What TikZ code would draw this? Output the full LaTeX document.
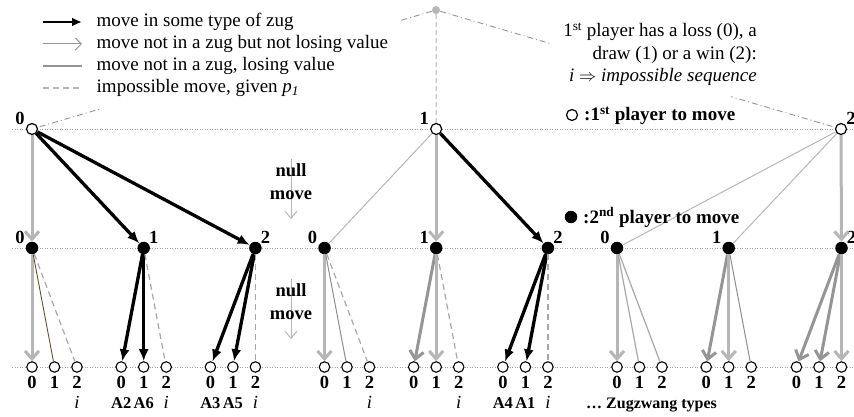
\documentclass[tikz,border=0pt]{standalone}
\usepackage{fontspec}
\setmainfont{Liberation Serif}
\usetikzlibrary{arrows.meta}
\definecolor{lg}{HTML}{B6B6B6}
\definecolor{dg}{HTML}{959595}
\definecolor{tg}{HTML}{A8A8A8}
\definecolor{tgd}{HTML}{8E8E8E}
\definecolor{dashg}{HTML}{A8A8A8}
\definecolor{dotg}{HTML}{A0A0A0}
\definecolor{brn}{RGB}{95,85,45}
\begin{document}
\begin{tikzpicture}[x=1pt,y=-1pt,
  every node/.style={font=\fontsize{19}{22.5}\selectfont},
  nlab/.style={font=\fontsize{18.5}{20}\selectfont\bfseries,inner sep=0pt},
  dig/.style={font=\fontsize{18.5}{20}\selectfont\bfseries,inner sep=0pt,anchor=base},
  alab/.style={font=\fontsize{16.5}{20}\selectfont\bfseries,inner sep=0pt,anchor=base},
  ilab/.style={font=\fontsize{18.5}{20}\selectfont\itshape,inner sep=0pt,anchor=base},
  txt/.style={inner sep=0pt,anchor=base west},
  btxt/.style={inner sep=0pt,anchor=base,font=\fontsize{18.5}{20}\selectfont\bfseries},
  wnode/.style={circle,draw=black,line width=1.2pt,fill=white,inner sep=0pt,minimum size=11pt},
  bnode/.style={circle,fill=black,inner sep=0pt,minimum size=12.5pt},
  leaf/.style={circle,draw=black,line width=1.1pt,fill=white,inner sep=0pt,minimum size=10.5pt},
  topdot/.style={circle,fill=lg,inner sep=0pt,minimum size=8pt},
  labl/.style={label={[nlab,xshift=-12pt,yshift=11pt]center:#1}},
  labr/.style={label={[nlab,xshift=10pt,yshift=11pt]center:#1}},
  zug/.style={draw=black,line width=3.3pt,-{Latex[length=12pt,width=10pt]}},
  nolose/.style={draw=lg,line width=3pt,-{Straight Barb[length=8pt,width=14pt]}},
  nolosed/.style={nolose,draw=dg},
  lose/.style={draw=tg,line width=1.2pt},
  losed/.style={draw=tgd,line width=1pt},
  losel/.style={draw=lg,line width=1pt},
  losebr/.style={draw=brn,line width=0.9pt},
  imposs/.style={draw=dashg,line width=1.2pt,dash pattern=on 6pt off 4pt},
  rowline/.style={draw=dotg,line width=0.8pt,dash pattern=on 1pt off 1.5pt},
  dashdot/.style={draw=dg,line width=0.9pt,dash pattern=on 6pt off 3pt on 1pt off 3pt},
  vdash/.style={draw=lg,line width=1pt,dash pattern=on 5pt off 3pt},
  nullarr/.style={draw=lg,line width=1pt,-{Straight Barb[length=7pt,width=12pt]}}
]
\useasboundingbox (0,0) rectangle (854,417);

% dotted row lines
\coordinate (r1a) at (12,129); \coordinate (r1b) at (854,129);
\coordinate (r2a) at (12,248); \coordinate (r2b) at (854,248);
\coordinate (r3a) at (12,367); \coordinate (r3b) at (854,367);
\draw[rowline] (r1a) -- (r1b);
\draw[rowline] (r2a) -- (r2b);
\draw[rowline] (r3a) -- (r3b);

% null move arrows
\coordinate (n1a) at (291,159); \coordinate (n1b) at (291,219);
\coordinate (n2a) at (291,279); \coordinate (n2b) at (291,339);
\draw[nullarr] (n1a) -- (n1b);
\draw[nullarr] (n2a) -- (n2b);
\node[btxt] (nm1) at (291,176) {null};
\node[btxt] (nm2) at (291,199) {move};
\node[btxt] (nm3) at (291,296) {null};
\node[btxt] (nm4) at (291,319) {move};

% nodes
\node[topdot] (top) at (436,10) {};
\node[wnode,labl=0] (w0) at (32,129) {};
\node[wnode,labl=1] (w1) at (436.2,129) {};
\node[wnode,labr=2] (w2) at (841,129) {};

\node[bnode,labl=0] (b00) at (32,248) {};
\node[bnode,labr=1] (b01) at (143.7,248) {};
\node[bnode,labr=2] (b02) at (255.4,248) {};
\node[bnode,labl=0] (b10) at (324.5,248) {};
\node[bnode,labl=1] (b11) at (436.2,248) {};
\node[bnode,labr=2] (b12) at (547.9,248) {};
\node[bnode,labl=0] (b20) at (617,248) {};
\node[bnode,labl=1] (b21) at (728.7,248) {};
\node[bnode,labr=2] (b22) at (841.5,248) {};

\foreach \g/\v/\bx in {0/0/32,0/1/143.7,0/2/255.4,1/0/324.5,1/1/436.2,1/2/547.9,2/0/617,2/1/728.7,2/2/841.5}{
  \foreach \k in {0,1,2}{
    \pgfmathsetmacro\cx{\bx+22.5*(\k-\v)}
    \node[leaf] (c\g\v\k) at (\cx,367) {};
    \node[dig] (d\g\v\k) at (\cx,388) {\k};
  }
}

% row 1 -> row 2
\draw[nolose] (w0) -- (b00);
\draw[zug] (w0) -- (b01);
\draw[zug] (w0) -- (b02);
\draw[losel] (w1) -- (b10);
\draw[nolose] (w1) -- (b11);
\draw[zug] (w1) -- (b12);
\draw[losel] (w2) -- (b20);
\draw[losel] (w2) -- (b21);
\draw[nolose] (w2) -- (b22);

% row 2 -> row 3
\draw[nolose] (b00) -- (c000);
\draw[losebr] (b00) -- (c001);
\draw[imposs] (b00) -- (c002);
\draw[zug] (b01) -- (c010);
\draw[zug] (b01) -- (c011);
\draw[imposs] (b01) -- (c012);
\draw[zug] (b02) -- (c020);
\draw[zug] (b02) -- (c021);
\draw[imposs] (b02) -- (c022);

\draw[nolose] (b10) -- (c100);
\draw[losed] (b10) -- (c101);
\draw[imposs] (b10) -- (c102);
\draw[nolosed] (b11) -- (c110);
\draw[nolose] (b11) -- (c111);
\draw[imposs] (b11) -- (c112);
\draw[zug] (b12) -- (c120);
\draw[zug] (b12) -- (c121);
\draw[imposs] (b12) -- (c122);

\draw[nolose] (b20) -- (c200);
\draw[lose] (b20) -- (c201);
\draw[lose] (b20) -- (c202);
\draw[nolosed] (b21) -- (c210);
\draw[nolose] (b21) -- (c211);
\draw[losed] (b21) -- (c212);
\draw[nolosed] (b22) -- (c220);
\draw[nolosed] (b22) -- (c221);
\draw[nolose] (b22) -- (c222);

% top lines
\draw[dashdot] (top) -- (w0);
\draw[dashdot] (top) -- (w2);
\draw[vdash] (top) -- (w1);

% white backgrounds of legend and note
\fill[white] (38,3) rectangle (401,109);
\fill[white] (552,12) rectangle (731,100);

% legend
\coordinate (l1a) at (43,22); \coordinate (l1b) at (82,22);
\coordinate (l2a) at (43,44); \coordinate (l2b) at (82,44);
\coordinate (l3a) at (43,66); \coordinate (l3b) at (82,66);
\coordinate (l4a) at (43,88); \coordinate (l4b) at (82,88);
\draw[draw=black,line width=2.8pt,-{Latex[length=10pt,width=9pt]}] (l1a) -- (l1b);
\draw[draw=dg,line width=1pt,-{Straight Barb[length=6pt,width=12pt]}] (l2a) -- (l2b);
\draw[draw=dg,line width=1.5pt] (l3a) -- (l3b);
\draw[draw=lg,line width=1.2pt,dash pattern=on 6pt off 4pt] (l4a) -- (l4b);
\node[txt] (lt1) at (96.5,27) {move in some type of zug};
\node[txt] (lt2) at (96.5,49) {move not in a zug but not losing value};
\node[txt] (lt3) at (96.5,71) {move not in a zug, losing value};
\node[txt] (lt4) at (96.5,93) {impossible move, given {\itshape p}\textsubscript{\itshape 1}};

% note
\node[inner sep=0pt,anchor=base east] (nt1) at (757,37) {1\textsuperscript{st} player has a loss (0), a};
\node[inner sep=0pt,anchor=base east] (nt2) at (757,59.5) {draw (1) or a win (2):};
\node[inner sep=0pt,anchor=base east] (nt3) at (757,82) {{\itshape i} $\Rightarrow$ {\itshape impossible sequence}};

% player legend
\node[wnode,minimum size=11pt] (pw) at (572,115) {};
\node[txt,font=\fontsize{19}{22}\selectfont\bfseries] (pwt) at (584,121) {:1\textsuperscript{st} player to move};
\node[bnode] (pb) at (571,217) {};
\node[txt,font=\fontsize{19}{22}\selectfont\bfseries] (pbt) at (583,223) {:2\textsuperscript{nd} player to move};

% bottom labels
\node[ilab] (i0) at (c002 |- 0,408) {i};
\node[ilab] (i1) at (c012 |- 0,408) {i};
\node[ilab] (i2) at (c022 |- 0,408) {i};
\node[ilab] (i3) at (c102 |- 0,408) {i};
\node[ilab] (i4) at (c112 |- 0,408) {i};
\node[ilab] (i5) at (c122 |- 0,408) {i};
\node[alab] (a2) at (c010 |- 0,408) {A2};
\node[alab] (a6) at (c011 |- 0,408) {A6};
\node[alab] (a3) at (c020 |- 0,408) {A3};
\node[alab] (a5) at (c021 |- 0,408) {A5};
\node[alab] (a4) at (c120 |- 0,408) {A4};
\node[alab] (a1) at (c121 |- 0,408) {A1};
\node[txt,font=\fontsize{16}{20}\selectfont\bfseries] (zt) at (586,408) {… Zugzwang types};
\end{tikzpicture}
\end{document}
